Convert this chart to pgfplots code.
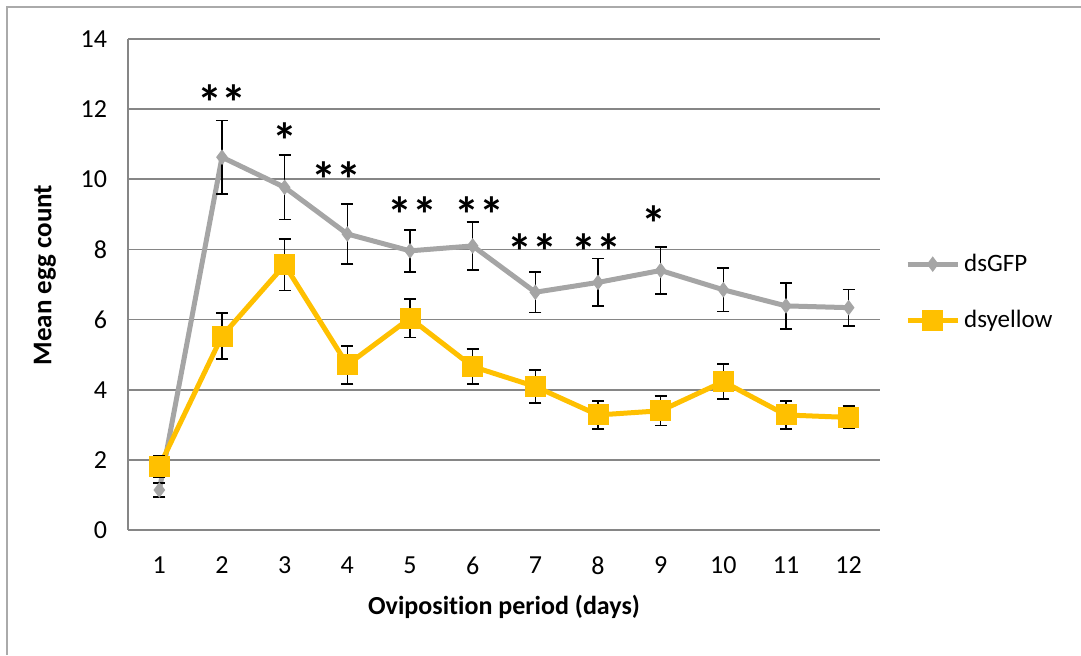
\documentclass[border=0pt]{standalone}
\usepackage{pgfplots}
\pgfplotsset{compat=1.18}
\usepackage{fontspec}
\setmainfont{Carlito}[Ligatures=NoCommon]
\definecolor{gfp}{RGB}{165,165,165}
\definecolor{yel}{RGB}{255,192,0}
\definecolor{gridc}{RGB}{134,134,134}
\begin{document}
\begin{tikzpicture}
\begin{axis}[
 at={(0,0)}, anchor=south west,
 scale only axis, width=376pt, height=245.5pt,
 xmin=0.5, xmax=12.5, ymin=0, ymax=14,
 xtick={1,...,12}, ytick={0,2,...,14},
 axis x line*=bottom, axis y line*=left,
 axis line style={gridc, line width=0.8pt, -},
 ymajorgrids, grid style={gridc, line width=0.8pt},
 major tick length=0pt,
 tick label style={font=\fontsize{13}{15}\selectfont, black},
 /pgf/number format/assume math mode=true,
 xticklabel style={yshift=-10pt},
 yticklabel style={xshift=-7pt},
 legend style={draw=none, fill=none, at={(1.033,0.484)}, anchor=west,
   font=\fontsize{12.5}{14}\selectfont, row sep=14pt, inner sep=0pt,
   nodes={inner sep=2pt}},
 legend cell align=left,
 legend image code/.code={\draw[mark repeat=2, mark phase=2, #1] plot coordinates {(0pt,0pt) (12.5pt,0pt) (25pt,0pt)};},
 clip=false,
]
\addplot[gfp, line width=2.5pt, mark=diamond*, mark size=3.5pt,
  mark options={fill=gfp, draw=gfp, line width=0.5pt},
  error bars/.cd, y dir=both, y explicit,
  error bar style={black, line width=0.8pt},
  error mark options={rotate=90, mark size=3pt, black, line width=0.8pt}]
  coordinates {
  (1,1.14) +- (0,0.2)
  (2,10.63) +- (0,1.05)
  (3,9.77) +- (0,0.92)
  (4,8.44) +- (0,0.86)
  (5,7.96) +- (0,0.6)
  (6,8.10) +- (0,0.68)
  (7,6.78) +- (0,0.58)
  (8,7.06) +- (0,0.68)
  (9,7.40) +- (0,0.67)
  (10,6.85) +- (0,0.62)
  (11,6.39) +- (0,0.66)
  (12,6.34) +- (0,0.52)
  };
\addlegendentry{dsGFP}
\addplot[yel, line width=2.5pt, mark=square*, mark size=5pt,
  mark options={fill=yel, draw=yel, line width=0.5pt},
  error bars/.cd, y dir=both, y explicit,
  error bar style={black, line width=0.8pt},
  error mark options={rotate=90, mark size=3pt, black, line width=0.8pt}]
  coordinates {
  (1,1.81) +- (0,0.3)
  (2,5.53) +- (0,0.66)
  (3,7.56) +- (0,0.73)
  (4,4.71) +- (0,0.54)
  (5,6.04) +- (0,0.55)
  (6,4.66) +- (0,0.5)
  (7,4.09) +- (0,0.47)
  (8,3.28) +- (0,0.4)
  (9,3.40) +- (0,0.42)
  (10,4.23) +- (0,0.5)
  (11,3.28) +- (0,0.4)
  (12,3.21) +- (0,0.32)
  };
\addlegendentry{dsyellow}
\tikzset{star/.style={font=\fontsize{25}{27}\selectfont\bfseries, inner sep=0pt, anchor=center}}
\node[star] at (axis cs:2,12.2) {**};
\node[star] at (axis cs:3,11.1) {*};
\node[star] at (axis cs:3.82,10.0) {**};
\node[star] at (axis cs:5.04,9.0) {**};
\node[star] at (axis cs:6.11,9.0) {**};
\node[star] at (axis cs:6.95,7.95) {**};
\node[star] at (axis cs:7.97,7.95) {**};
\node[star] at (axis cs:8.9,8.75) {*};
\end{axis}
\node[font=\fontsize{13}{15}\selectfont\bfseries] at (188pt,-38.5pt) {Oviposition period (days)};
\node[rotate=90, font=\fontsize{13.5}{15}\selectfont\bfseries] at (-41.5pt,127.5pt) {Mean egg count};
\draw[gridc!70, line width=0.8pt] (-60.5pt,-62.5pt) -- (-60.5pt,261.5pt) -- (476.5pt,261.5pt);
\pgfresetboundingbox
\path (-64pt,-62.5pt) rectangle (476.5pt,265pt);
\end{tikzpicture}
\end{document}
